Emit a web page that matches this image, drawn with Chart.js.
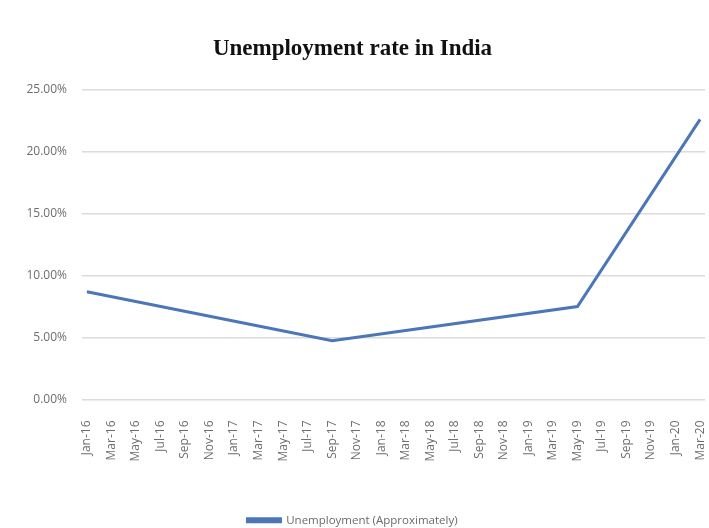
<!DOCTYPE html>
<html>
<head>
<meta charset="utf-8">
<title>Unemployment rate in India</title>
<script src="https://cdn.jsdelivr.net/npm/chart.js@4/dist/chart.umd.min.js"></script>
<style>
  html, body { margin: 0; padding: 0; background: #fff; }
  #wrap { width: 709px; height: 528px; }
</style>
</head>
<body>
<div id="wrap"><canvas id="rateChart" width="709" height="528"></canvas></div>
<script>
// two-month steps, Jan-16 .. Mar-20
const months = [
  'Jan-16', 'Mar-16', 'May-16', 'Jul-16', 'Sep-16', 'Nov-16',
  'Jan-17', 'Mar-17', 'May-17', 'Jul-17', 'Sep-17', 'Nov-17',
  'Jan-18', 'Mar-18', 'May-18', 'Jul-18', 'Sep-18', 'Nov-18',
  'Jan-19', 'Mar-19', 'May-19', 'Jul-19', 'Sep-19', 'Nov-19',
  'Jan-20', 'Mar-20'
];

// approximate rate (%), only the known readings; gaps are bridged by the line
const rate = [
  8.7, null, null, null, null, null,
  null, null, null, null, 4.75, null,
  null, null, null, null, null, null,
  null, null, 7.5, null, null, null,
  null, 22.6
];

const yTicks = [0, 5, 10, 15, 20, 25];

const lineColor = '#4C76B6';
const tickColor = '#6e6e6e';

const points = [];
rate.forEach((v, i) => {
  if (v !== null) points.push({ x: i, y: v });
});

const ctx = document.getElementById('rateChart').getContext('2d');
new Chart(ctx, {
  type: 'line',
  data: {
    datasets: [{
      label: 'Unemployment (Approximately)',
      data: points,
      borderColor: lineColor,
      backgroundColor: lineColor,
      borderWidth: 3,
      pointRadius: 0,
      tension: 0
    }]
  },
  options: {
    responsive: false,
    animation: false,
    layout: { padding: { top: 0, right: 4, bottom: -8, left: 0 } },
    plugins: {
      title: {
        display: true,
        text: 'Unemployment rate in India',
        color: '#111',
        font: { family: '"Liberation Serif", "Times New Roman", serif', size: 23, weight: 'bold' },
        padding: { top: 35, bottom: 27 }
      },
      legend: {
        display: true,
        position: 'bottom',
        labels: {
          color: '#6a6a6a',
          font: { family: '"Open Sans", sans-serif', size: 11.5 },
          boxWidth: 33,
          boxHeight: 3,
          padding: 4
        }
      },
      tooltip: { enabled: false }
    },
    scales: {
      x: {
        type: 'linear',
        min: -0.2,
        max: months.length - 0.8,
        afterBuildTicks: (scale) => {
          scale.ticks = months.map((m, i) => ({ value: i }));
        },
        afterFit: (scale) => {
          scale.height = 111;
          scale.paddingLeft = 0;
          scale.paddingRight = 0;
        },
        grid: { display: false },
        border: { display: false },
        ticks: {
          autoSkip: false,
          minRotation: 90,
          maxRotation: 90,
          padding: 13,
          color: tickColor,
          font: { family: '"Open Sans", sans-serif', size: 12 },
          callback: (v) => months[v]
        }
      },
      y: {
        min: 0,
        max: 25,
        afterBuildTicks: (scale) => {
          scale.ticks = yTicks.map(v => ({ value: v }));
        },
        afterFit: (scale) => { scale.width = 82; },
        grid: { color: '#dcdcdc', lineWidth: 1.5, drawTicks: false },
        border: { display: false },
        ticks: {
          padding: 15,
          color: tickColor,
          font: { family: '"Open Sans", sans-serif', size: 12 },
          callback: (v) => v.toFixed(2) + '%'
        }
      }
    }
  }
});
</script>
</body>
</html>
